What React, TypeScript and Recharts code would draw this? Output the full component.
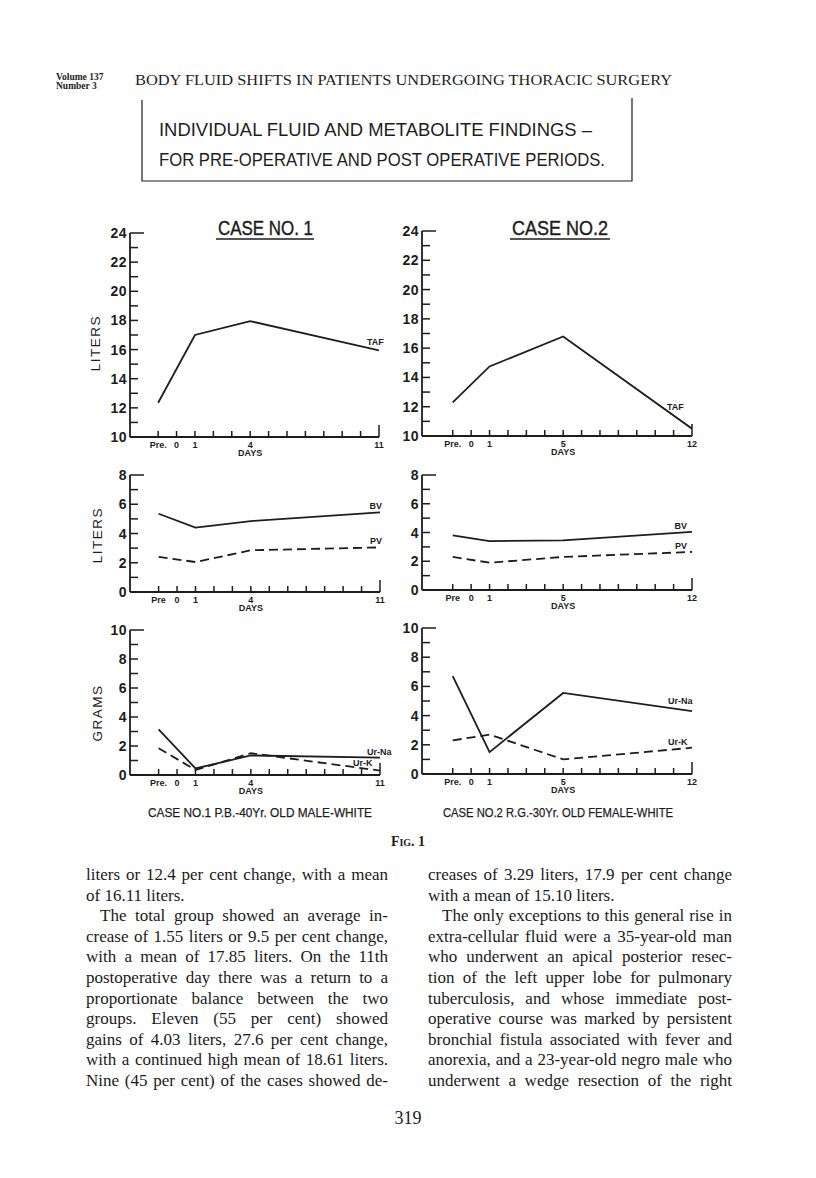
import React from "react";
import { LineChart, Line, XAxis, YAxis } from "recharts";

// values (liters / grams against post-operative day, Pre = -1)
const case1Days = [-1, 1, 4, 11];
const case1Taf = [12.35, 17.0, 17.95, 15.95];
const case1Bv = [5.35, 4.4, 4.85, 5.45];
const case1Pv = [2.4, 2.05, 2.85, 3.05];
const case1UrNa = [3.15, 0.45, 1.35, 1.2];
const case1UrK = [1.85, 0.35, 1.5, 0.3];

const case2Days = [-1, 1, 5, 12];
const case2Taf = [12.3, 14.75, 16.8, 10.5];
const case2Bv = [3.8, 3.4, 3.45, 4.05];
const case2Pv = [2.3, 1.9, 2.3, 2.65];
const case2UrNa = [6.7, 1.5, 5.55, 4.3];
const case2UrK = [2.3, 2.7, 1.0, 1.8];

const case1DayTicks = [-1, 0, 1, 2, 3, 4, 5, 6, 7, 8, 9, 10, 11];
const case2DayTicks = [-1, 0, 1, 2, 3, 4, 5, 6, 7, 8, 9, 10, 11, 12];
const case1LabelDays = [-1, 0, 1, 4, 11];
const case2LabelDays = [-1, 0, 1, 5, 12];
const case1DayText = ["Pre.", "0", "1", "4", "11"];
const case1MidDayText = ["Pre", "0", "1", "4", "11"];
const case2DayText = ["Pre.", "0", "1", "5", "12"];
const case2MidDayText = ["Pre", "0", "1", "5", "12"];

const tafTicks = [10, 11, 12, 13, 14, 15, 16, 17, 18, 19, 20, 21, 22, 23, 24];
const volumeTicks = [0, 1, 2, 3, 4, 5, 6, 7, 8];
const gramTicks = [0, 1, 2, 3, 4, 5, 6, 7, 8, 9, 10];

const leftLines = [
  "liters or 12.4 per cent change, with a mean",
  "of 16.11 liters.",
  "The total group showed an average in-",
  "crease of 1.55 liters or 9.5 per cent change,",
  "with a mean of 17.85 liters. On the 11th",
  "postoperative day there was a return to a",
  "proportionate balance between the two",
  "groups. Eleven (55 per cent) showed",
  "gains of 4.03 liters, 27.6 per cent change,",
  "with a continued high mean of 18.61 liters.",
  "Nine (45 per cent) of the cases showed de-",
];
const rightLines = [
  "creases of 3.29 liters, 17.9 per cent change",
  "with a mean of 15.10 liters.",
  "The only exceptions to this general rise in",
  "extra-cellular fluid were a 35-year-old man",
  "who underwent an apical posterior resec-",
  "tion of the left upper lobe for pulmonary",
  "tuberculosis, and whose immediate post-",
  "operative course was marked by persistent",
  "bronchial fistula associated with fever and",
  "anorexia, and a 23-year-old negro male who",
  "underwent a wedge resection of the right",
];

const INK = "#1d1d1d";
const SANS = "Arial, 'Liberation Sans', sans-serif";
const SERIF = "'Liberation Serif', 'Times New Roman', serif";

type Series = {
  key: string;
  name: string;
  dashed?: boolean;
  dx: number;
  dy: number;
  anchor?: "start" | "end";
};

const DayTick = (props: any) => {
  const { x, y, payload, labelDays, labelText, lastDay } = props;
  const v = payload.value;
  const i = labelDays.indexOf(v);
  const len = v === lastDay ? 12 : 6;
  return (
    <g>
      <line x1={x} x2={x} y1={y} y2={y - len} stroke={INK} strokeWidth={1.5} />
      {i >= 0 && (
        <text x={x} y={y + 11} textAnchor="middle" fontSize={9} fontWeight={700} fontFamily={SANS} fill={INK}>
          {labelText[i]}
        </text>
      )}
      {i === 3 && (
        <text x={x} y={y + 19} textAnchor="middle" fontSize={9} fontWeight={700} fontFamily={SANS} fill={INK}>
          DAYS
        </text>
      )}
    </g>
  );
};

const ValueTick = (props: any) => {
  const { x, y, payload, top } = props;
  const v = payload.value;
  const len = v === top ? 14 : 8;
  return (
    <g>
      <line x1={x} x2={x + len} y1={y} y2={y} stroke={INK} strokeWidth={1.5} />
      {v % 2 === 0 && (
        <text x={x - 3} y={y} dy="0.36em" textAnchor="end" fontSize={14} fontWeight={700} fontFamily={SANS} fill={INK} letterSpacing={0.5}>
          {v}
        </text>
      )}
    </g>
  );
};

function Panel(props: {
  x0: number;
  y0: number;
  w: number;
  h: number;
  rows: any[];
  xDomain: number[];
  xTicks: number[];
  labelDays: number[];
  labelText: string[];
  yDomain: number[];
  yTicks: number[];
  series: Series[];
}) {
  const { x0, y0, w, h, rows, xDomain, xTicks, labelDays, labelText, yDomain, yTicks, series } = props;
  // axes get 1px of room each (recharts skips an axis of size 0)
  const m = { top: 16, right: 40, bottom: 29, left: 59 };
  const lastDay = xTicks[xTicks.length - 1];
  const n = rows.length;
  return (
    <div style={{ position: "absolute", left: x0 - 60, top: y0 - m.top }}>
      <LineChart width={w + 60 + m.right} height={h + m.top + 30} data={rows} margin={m}>
        <XAxis
          type="number"
          dataKey="day"
          domain={xDomain}
          ticks={xTicks}
          interval={0}
          height={1}
          tickSize={0}
          tickMargin={0}
          tickLine={false}
          allowDataOverflow
          axisLine={{ stroke: INK, strokeWidth: 1.8 }}
          tick={(p: any) => <DayTick {...p} labelDays={labelDays} labelText={labelText} lastDay={lastDay} />}
        />
        <YAxis
          type="number"
          domain={yDomain}
          ticks={yTicks}
          interval={0}
          width={1}
          tickSize={0}
          tickMargin={0}
          tickLine={false}
          allowDataOverflow
          axisLine={{ stroke: INK, strokeWidth: 1.8 }}
          tick={(p: any) => <ValueTick {...p} top={yDomain[1]} />}
        />
        {series.map((s) => (
          <Line
            key={s.key}
            type="linear"
            dataKey={s.key}
            stroke={INK}
            strokeWidth={1.8}
            strokeDasharray={s.dashed ? "9 5" : undefined}
            dot={false}
            activeDot={false}
            isAnimationActive={false}
            label={(p: any) =>
              p.index === n - 1 ? (
                <text
                  x={p.x + s.dx}
                  y={p.y + s.dy}
                  textAnchor={s.anchor || "start"}
                  fontSize={9}
                  fontWeight={700}
                  fontFamily={SANS}
                  fill={INK}
                >
                  {s.name}
                </text>
              ) : (
                <g />
              )
            }
          />
        ))}
      </LineChart>
    </div>
  );
}

const case1Rows = case1Days.map((d, i) => ({
  day: d,
  taf: case1Taf[i],
  bv: case1Bv[i],
  pv: case1Pv[i],
  na: case1UrNa[i],
  k: case1UrK[i],
}));
const case2Rows = case2Days.map((d, i) => ({
  day: d,
  taf: case2Taf[i],
  bv: case2Bv[i],
  pv: case2Pv[i],
  na: case2UrNa[i],
  k: case2UrK[i],
}));

function Column({ x, lines, width }: { x: number; lines: string[]; width: number }) {
  return (
    <>
      {lines.map((t, i) => (
        <div
          key={i}
          style={{
            position: "absolute",
            left: x + (i === 2 ? 14 : 0),
            top: 864 + i * 20.6,
            width: width - (i === 2 ? 14 : 0),
            fontFamily: SERIF,
            fontSize: 17,
            lineHeight: "21px",
            whiteSpace: "nowrap",
            color: "#1a1a1a",
            textAlign: "justify",
            textAlignLast: i === 1 ? "left" : "justify",
          }}
        >
          {t}
        </div>
      ))}
    </>
  );
}

export default function App() {
  return (
    <div style={{ position: "absolute", left: 0, top: 0, width: 816, height: 1178, background: "#fff", overflow: "hidden" }}>
      <svg width={816} height={1178} style={{ position: "absolute", left: 0, top: 0 }}>
        <text x={56} y={80} fontFamily={SERIF} fontSize={9.5} fontWeight={700} fill={INK}>Volume 137</text>
        <text x={56} y={88.5} fontFamily={SERIF} fontSize={9.5} fontWeight={700} fill={INK}>Number 3</text>
        <text x={135} y={85} fontFamily={SERIF} fontSize={14.5} fill={INK} textLength={537} lengthAdjust="spacingAndGlyphs">
          BODY FLUID SHIFTS IN PATIENTS UNDERGOING THORACIC SURGERY
        </text>
        <polyline points="142,100 142,181 632,181 632,98" fill="none" stroke={INK} strokeWidth={1.2} />
        <text x={159} y={136} fontFamily={SANS} fontSize={19} fill={INK} textLength={433} lengthAdjust="spacingAndGlyphs">
          INDIVIDUAL  FLUID  AND  METABOLITE  FINDINGS –
        </text>
        <text x={159} y={166} fontFamily={SANS} fontSize={19} fill={INK} textLength={446} lengthAdjust="spacingAndGlyphs">
          FOR PRE-OPERATIVE AND POST OPERATIVE PERIODS.
        </text>

        <text x={218} y={235} fontFamily={SANS} fontSize={20} fill={INK} stroke={INK} strokeWidth={0.4} textLength={95} lengthAdjust="spacingAndGlyphs">CASE NO. 1</text>
        <line x1={216} x2={314} y1={239} y2={239} stroke={INK} strokeWidth={1.4} />
        <text x={512} y={235} fontFamily={SANS} fontSize={20} fill={INK} stroke={INK} strokeWidth={0.4} textLength={96} lengthAdjust="spacingAndGlyphs">CASE NO.2</text>
        <line x1={510} x2={610} y1={239} y2={239} stroke={INK} strokeWidth={1.4} />

        <text x={95} y={343} transform="rotate(-90 95 343)" textAnchor="middle" dominantBaseline="central" fontFamily={SANS} fontSize={13.5} fill={INK} letterSpacing={1.5}>LITERS</text>
        <text x={97} y={535} transform="rotate(-90 97 535)" textAnchor="middle" dominantBaseline="central" fontFamily={SANS} fontSize={13.5} fill={INK} letterSpacing={1.5}>LITERS</text>
        <text x={97} y={713} transform="rotate(-90 97 713)" textAnchor="middle" dominantBaseline="central" fontFamily={SANS} fontSize={13.5} fill={INK} letterSpacing={1.5}>GRAMS</text>

        <text x={148} y={817} fontFamily={SANS} fontSize={12.5} fill={INK} stroke={INK} strokeWidth={0.25} textLength={224} lengthAdjust="spacingAndGlyphs">CASE NO.1  P.B.-40Yr. OLD MALE-WHITE</text>
        <text x={443} y={817} fontFamily={SANS} fontSize={12.5} fill={INK} stroke={INK} strokeWidth={0.25} textLength={230} lengthAdjust="spacingAndGlyphs">CASE NO.2  R.G.-30Yr. OLD FEMALE-WHITE</text>
        <text x={408} y={846} textAnchor="middle" fontFamily={SERIF} fontSize={14} fontWeight={700} fill={INK} style={{ fontVariant: "small-caps" }}>Fig. 1</text>
        <text x={408} y={1124} textAnchor="middle" fontFamily={SERIF} fontSize={18} fill={INK}>319</text>
      </svg>

      <Panel x0={130} y0={233} w={249} h={204} rows={case1Rows} xDomain={[-2.53, 11]} xTicks={case1DayTicks}
        labelDays={case1LabelDays} labelText={case1DayText} yDomain={[10, 24]} yTicks={tafTicks}
        series={[{ key: "taf", name: "TAF", dx: -12, dy: -5 }]} />
      <Panel x0={422} y0={231} w={270} h={205} rows={case2Rows} xDomain={[-2.67, 12]} xTicks={case2DayTicks}
        labelDays={case2LabelDays} labelText={case2DayText} yDomain={[10, 24]} yTicks={tafTicks}
        series={[{ key: "taf", name: "TAF", dx: -25, dy: -19 }]} />

      <Panel x0={130} y0={475} w={250} h={117} rows={case1Rows} xDomain={[-2.55, 11]} xTicks={case1DayTicks}
        labelDays={case1LabelDays} labelText={case1MidDayText} yDomain={[0, 8]} yTicks={volumeTicks}
        series={[
          { key: "bv", name: "BV", dx: 2, dy: -3, anchor: "end" },
          { key: "pv", name: "PV", dx: 2, dy: -3, anchor: "end", dashed: true },
        ]} />
      <Panel x0={422} y0={475} w={270} h={115} rows={case2Rows} xDomain={[-2.67, 12]} xTicks={case2DayTicks}
        labelDays={case2LabelDays} labelText={case2MidDayText} yDomain={[0, 8]} yTicks={volumeTicks}
        series={[
          { key: "bv", name: "BV", dx: -5, dy: -3, anchor: "end" },
          { key: "pv", name: "PV", dx: -5, dy: -3, anchor: "end", dashed: true },
        ]} />

      <Panel x0={130} y0={630} w={250} h={145} rows={case1Rows} xDomain={[-2.55, 11]} xTicks={case1DayTicks}
        labelDays={case1LabelDays} labelText={case1DayText} yDomain={[0, 10]} yTicks={gramTicks}
        series={[
          { key: "na", name: "Ur-Na", dx: -13, dy: -3 },
          { key: "k", name: "Ur-K", dx: -27, dy: -5, dashed: true },
        ]} />
      <Panel x0={422} y0={628} w={270} h={146} rows={case2Rows} xDomain={[-2.67, 12]} xTicks={case2DayTicks}
        labelDays={case2LabelDays} labelText={case2DayText} yDomain={[0, 10]} yTicks={gramTicks}
        series={[
          { key: "na", name: "Ur-Na", dx: -24, dy: -7 },
          { key: "k", name: "Ur-K", dx: -24, dy: -3, dashed: true },
        ]} />

      <Column x={86} lines={leftLines} width={302} />
      <Column x={428} lines={rightLines} width={304} />
    </div>
  );
}
